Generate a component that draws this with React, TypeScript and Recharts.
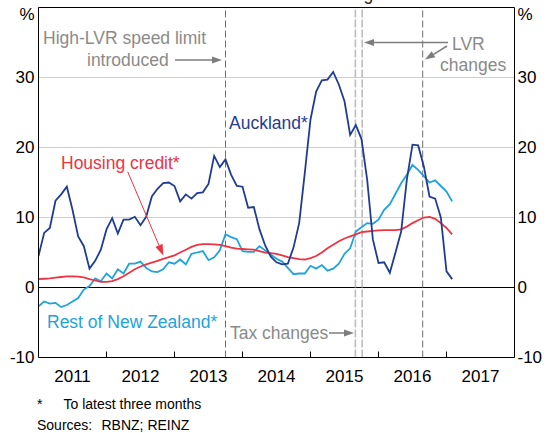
import React from "react";
import { LineChart, Line, XAxis, YAxis, CartesianGrid, ReferenceLine } from "recharts";

// monthly observations, first point = January 2011
const START_YEAR = 2011;

const auckland = [
  4.5, 7.8, 8.5, 12.4, 13.3, 14.4, 11.1, 7.3, 5.9, 2.7,
  3.8, 5.4, 8.3, 9.9, 7.7, 9.7, 9.7, 10.1, 8.9, 10.1,
  13.0, 14.1, 14.9, 15.0, 14.5, 12.3, 13.3, 12.7, 13.5, 13.6,
  14.8, 18.8, 17.2, 18.3, 16.1, 14.5, 14.4, 11.4, 11.5, 8.3,
  6.0, 4.4, 3.6, 3.3, 3.4, 5.7, 9.2, 16.4, 24.0, 28.0,
  29.6, 29.7, 30.8, 29.0, 26.6, 21.8, 23.2, 21.2, 15.4, 6.9,
  3.5, 3.6, 2.1, 5.0, 8.0, 15.4, 20.4, 20.3, 17.3, 13.0,
  12.7, 10.0, 2.3, 1.2,
];

const restOfNz = [
  -2.7, -2.0, -2.3, -2.2, -2.8, -2.5, -2.0, -1.5, -0.3, 0.2,
  1.3, 0.9, 2.0, 1.3, 2.6, 2.0, 3.4, 3.4, 3.7, 2.8,
  2.3, 2.2, 2.6, 3.6, 3.4, 4.0, 3.3, 4.8, 5.0, 5.2,
  3.9, 4.3, 5.3, 7.6, 7.2, 6.9, 5.2, 5.1, 5.1, 5.9,
  5.3, 4.7, 4.1, 3.7, 2.8, 1.9, 2.0, 2.0, 3.1, 2.7,
  3.2, 2.4, 2.7, 3.4, 4.8, 5.6, 8.0, 8.6, 9.2, 9.1,
  9.7, 11.1, 11.9, 13.4, 14.9, 16.1, 17.5, 16.8, 15.9, 15.0,
  15.3, 14.5, 13.7, 12.3,
];

const housingCredit = [
  1.2, 1.25, 1.3, 1.4, 1.5, 1.6, 1.6, 1.55, 1.45, 1.2,
  1.0, 0.8, 0.8, 0.9, 1.2, 1.6, 2.1, 2.6, 3.0, 3.3,
  3.55, 3.8, 4.1, 4.35, 4.6, 5.0, 5.4, 5.8, 6.1, 6.2,
  6.2, 6.15, 6.1, 5.9, 5.7, 5.55, 5.5, 5.45, 5.4, 5.2,
  5.0, 4.9, 4.8, 4.6, 4.35, 4.2, 4.05, 4.0, 4.2, 4.5,
  5.0, 5.6, 6.1, 6.6, 7.0, 7.3, 7.6, 7.9, 8.0, 8.1,
  8.15, 8.2, 8.2, 8.2, 8.3, 8.7, 9.2, 9.6, 10.0, 10.1,
  9.8, 9.2, 8.5, 7.6,
];

const yearLabels = [2011.5, 2012.5, 2013.5, 2014.5, 2015.5, 2016.5, 2017.5];
const yearTicks = [2012, 2013, 2014, 2015, 2016, 2017];
const yTicks = [-10, 0, 10, 20, 30, 40];
const policyEvents = [2013.75, 2016.65]; // high-LVR speed limit, LVR changes
const taxEvents = [2015.66, 2015.76]; // tax changes, LVR changes

const data = auckland.map((v, i) => ({
  date: START_YEAR + i / 12,
  auckland: v,
  rest: restOfNz[i],
  credit: housingCredit[i],
}));

const FONT = "Arial, 'Liberation Sans', sans-serif";
const GREY = "#8a8a8a";
const AUCK = "#1f3c93";
const REST = "#1ea3dc";
const CREDIT = "#ee3342";

const YTick = ({ x, y, payload, anchor }: any) => (
  <text
    x={x}
    y={y + (payload.value === 40 ? 7 : 0)}
    dy="0.35em"
    textAnchor={anchor}
    fontSize={17}
    fill="#000"
    fontFamily={FONT}
  >
    {payload.value === 40 ? "%" : payload.value}
  </text>
);

function Arrow({ x1, y1, x2, y2, color, width = 1.5, head = 10 }: any) {
  const a = Math.atan2(y2 - y1, x2 - x1);
  const bx = x2 - head * Math.cos(a);
  const by = y2 - head * Math.sin(a);
  const w = head * 0.35;
  const pts = [
    [x2, y2],
    [bx + w * Math.sin(a), by - w * Math.cos(a)],
    [bx - w * Math.sin(a), by + w * Math.cos(a)],
  ];
  return (
    <g>
      <line x1={x1} y1={y1} x2={bx} y2={by} stroke={color} strokeWidth={width} />
      <polygon points={pts.map((p) => p.join(",")).join(" ")} fill={color} />
    </g>
  );
}

export default function App() {
  return (
    <div style={{ position: "absolute", left: 0, top: 0, width: 550, height: 433, background: "#fff" }}>
      <LineChart
        width={550}
        height={433}
        data={data}
        margin={{ top: 7.5, right: 0, bottom: 45.5, left: 0.5 }}
        style={{ fontFamily: FONT }}
      >
        <CartesianGrid vertical={false} stroke="#cfcfcf" strokeWidth={1} />
        <XAxis
          dataKey="date"
          type="number"
          domain={[2011, 2018]}
          ticks={yearLabels}
          tickFormatter={(v: number) => String(Math.floor(v))}
          tickLine={false}
          tickSize={6}
          tickMargin={6}
          axisLine={{ stroke: "#000" }}
          tick={{ fill: "#000", fontSize: 17 }}
          height={30}
          allowDataOverflow
        />
        <YAxis
          domain={[-10, 40]}
          ticks={yTicks}
          width={38}
          tickLine={false}
          tickSize={2}
          tickMargin={2}
          axisLine={{ stroke: "#000" }}
          tick={<YTick anchor="end" />}
          interval={0}
          allowDataOverflow
        />
        <YAxis
          yAxisId="right"
          orientation="right"
          domain={[-10, 40]}
          ticks={yTicks}
          width={35.5}
          tickLine={false}
          tickSize={1}
          tickMargin={2}
          axisLine={{ stroke: "#000" }}
          tick={<YTick anchor="start" />}
          interval={0}
          allowDataOverflow
        />
        <ReferenceLine y={0} stroke="#000" strokeWidth={1} />
        <ReferenceLine y={40} stroke="#000" strokeWidth={1} />
        {yearTicks.map((yr) => (
          <ReferenceLine
            key={yr}
            segment={[{ x: yr, y: -10 }, { x: yr, y: -9.15 }]}
            stroke="#000"
            strokeWidth={1}
          />
        ))}
        {policyEvents.map((d) => (
          <ReferenceLine key={d} x={d} stroke="#6e6e6e" strokeWidth={1} strokeDasharray="7 3" />
        ))}
        {taxEvents.map((d) => (
          <ReferenceLine key={d} x={d} stroke="#bdbdbd" strokeWidth={1.6} strokeDasharray="8 2" />
        ))}
        <Line type="linear" dataKey="rest" stroke={REST} strokeWidth={1.8} dot={false} isAnimationActive={false} />
        <Line type="linear" dataKey="credit" stroke={CREDIT} strokeWidth={1.8} dot={false} isAnimationActive={false} />
        <Line type="linear" dataKey="auckland" stroke={AUCK} strokeWidth={1.8} dot={false} isAnimationActive={false} />
      </LineChart>

      <svg
        width={550}
        height={433}
        style={{ position: "absolute", left: 0, top: 0, pointerEvents: "none" }}
        fontFamily={FONT}
      >
        {/* chart title sits above the crop, only its lowest pixels show */}
        <text x={276} y={-0.5} textAnchor="middle" fontSize={17.5} fill="#222">
          Six-month-ended annualised growth
        </text>

        <text x={43} y={44} fontSize={17.5} fill={GREY}>High-LVR speed limit</text>
        <text x={87} y={66} fontSize={17.5} fill={GREY}>introduced</text>
        <Arrow x1={175} y1={60} x2={222} y2={60} color="#7d7d7d" />

        <text x={452} y={50} fontSize={17.5} fill={GREY}>LVR</text>
        <text x={440} y={71} fontSize={17.5} fill={GREY}>changes</text>
        <Arrow x1={448} y1={42.5} x2={364} y2={42.5} color="#7d7d7d" />
        <Arrow x1={447} y1={46} x2={425} y2={59.5} color="#7d7d7d" />

        <text x={230} y={339} fontSize={17.5} fill={GREY}>Tax changes</text>
        <Arrow x1={329} y1={333} x2={354} y2={333} color="#7d7d7d" />

        <text x={229} y={129} fontSize={17.5} fill={AUCK}>Auckland*</text>
        <text x={61} y={169} fontSize={17.5} fill={CREDIT}>Housing credit*</text>
        <Arrow x1={127.7} y1={171.7} x2={163.3} y2={255.5} color={CREDIT} width={1} head={11} />
        <text x={47} y={328} fontSize={17.5} fill={REST}>Rest of New Zealand*</text>

        <text x={37} y={409} fontSize={14} fill="#000">*</text>
        <text x={63.5} y={409} fontSize={14} fill="#000">To latest three months</text>
        <text x={37} y={430} fontSize={14} fill="#000">Sources:</text>
        <text x={101.5} y={430} fontSize={14} fill="#000">RBNZ; REINZ</text>
      </svg>
    </div>
  );
}
